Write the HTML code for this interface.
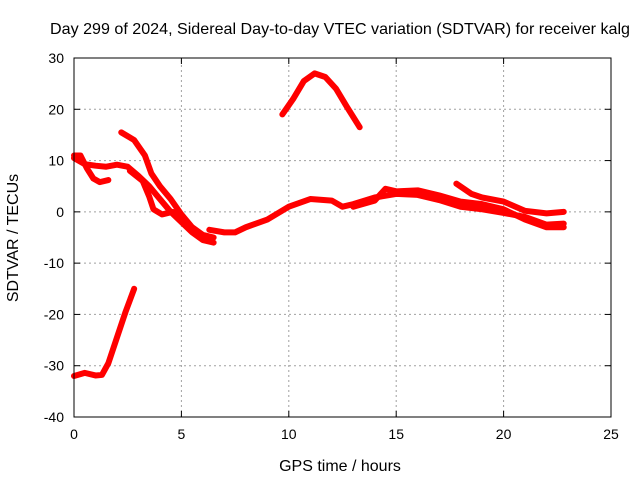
<!DOCTYPE html>
<html><head><meta charset="utf-8"><style>
body{margin:0;background:#fff}
svg{display:block;font-family:"Liberation Sans",sans-serif}
</style></head><body>
<svg id="c" width="640" height="480">
<text x="340" y="34" text-anchor="middle" font-size="16" textLength="580" lengthAdjust="spacingAndGlyphs">Day 299 of 2024, Sidereal Day-to-day VTEC variation (SDTVAR) for receiver kalg</text>
<text x="340" y="471" text-anchor="middle" font-size="16">GPS time / hours</text>
<text transform="translate(18,238) rotate(-90)" text-anchor="middle" font-size="16">SDTVAR / TECUs</text>
<g id="grid"></g><g id="ticks"></g><g id="series"></g>
<rect x="74" y="58" width="537" height="359" fill="none" stroke="#000" stroke-width="1"/>
</svg>
<script>
const xTicks=[0,5,10,15,20,25];
const yTicks=[-40,-30,-20,-10,0,10,20,30];
const trackA=[[0,-32],[0.5,-31.4],[1,-31.9],[1.3,-31.8],[1.6,-29.5],[2,-24.5],[2.4,-19.5],[2.8,-15]];
const trackB=[[0,11],[0.3,11],[0.6,8.5],[0.9,6.5],[1.2,5.8],[1.6,6.2]];
const trackC=[[0,10.5],[0.5,9.3],[1,9],[1.5,8.8],[2,9.2],[2.5,8.8],[3,7],[3.5,5],[4,2.5],[4.5,0],[5,-2],[5.5,-4],[6,-5.5],[6.5,-6]];
const trackD=[[2.2,15.5],[2.8,14],[3.3,11],[3.6,7.5],[4,5],[4.5,2.5],[5,-0.5],[5.5,-3],[6,-4.5],[6.5,-5]];
const trackE=[[2.6,8],[3.2,6],[3.5,3],[3.7,0.5],[4.1,-0.5],[4.6,0],[5,-1.5],[5.4,-3]];
const trackF=[[6.3,-3.5],[7,-4],[7.5,-4],[8,-3],[9,-1.5],[10,1],[11,2.5],[12,2.2],[12.5,1],[13,1.5],[14,2.8],[15,3.5],[16,3.3],[17,2.3],[18,1],[19,0.5],[20,-0.2],[21,-1],[22,-2.5],[22.8,-2.3]];
const trackG=[[13,1],[14,2.2],[14.5,4.5],[15,4],[16,4.2],[17,3.2],[18,2],[19,1.5],[20,0.5],[21,-1.5],[22,-3],[22.8,-3]];
const trackH=[[17.8,5.5],[18.5,3.5],[19,2.8],[20,2],[21,0.2],[22,-0.3],[22.8,0]];
const trackI=[[9.7,19],[10.2,22],[10.7,25.5],[11.2,27],[11.7,26.3],[12.2,24],[12.7,20.5],[13.3,16.5]];
const tracks=[trackA,trackB,trackC,trackD,trackE,trackF,trackG,trackH,trackI];
const X0=74,X1=611,Y0=417,Y1=58;
const xs=v=>X0+(v-0)/(25-0)*(X1-X0);
const ys=v=>Y0-(v+40)/70*(Y0-Y1);
const NS="http://www.w3.org/2000/svg";
function mk(t,a,p){const e=document.createElementNS(NS,t);for(const k in a)e.setAttribute(k,a[k]);p.appendChild(e);return e;}
const g=document.getElementById('grid'),tk=document.getElementById('ticks'),s=document.getElementById('series');
xTicks.forEach(v=>{const x=xs(v);
 if(v>0&&v<25){const l=mk('line',{x1:x,x2:x,y1:Y0,y2:Y1,stroke:'#a0a0a0','stroke-dasharray':'2,3'},g);
 
 }
 mk('line',{x1:x,x2:x,y1:Y0,y2:Y0-6,stroke:'#000'},tk);mk('line',{x1:x,x2:x,y1:Y1,y2:Y1+6,stroke:'#000'},tk);
 const t=mk('text',{x:x,y:Y0+22,'text-anchor':'middle','font-size':14},tk);t.textContent=v;
 
 });
yTicks.forEach(v=>{const y=ys(v);
 if(v>-40&&v<30){const l=mk('line',{x1:X0,x2:X1,y1:y,y2:y,stroke:'#a0a0a0','stroke-dasharray':'2,3'},g);
 
 }
 mk('line',{x1:X0,x2:X0+6,y1:y,y2:y,stroke:'#000'},tk);mk('line',{x1:X1,x2:X1-6,y1:y,y2:y,stroke:'#000'},tk);
 const t=mk('text',{x:X0-10,y:y+5,'text-anchor':'end','font-size':14},tk);t.textContent=v;
 
 });
tracks.forEach(tr=>{const p=mk('polyline',{points:tr.map(d=>xs(d[0])+','+ys(d[1])).join(' '),fill:'none',stroke:'#f00','stroke-width':6,'stroke-linejoin':'round','stroke-linecap':'round'},s);
 
 });
</script>
</body></html>
